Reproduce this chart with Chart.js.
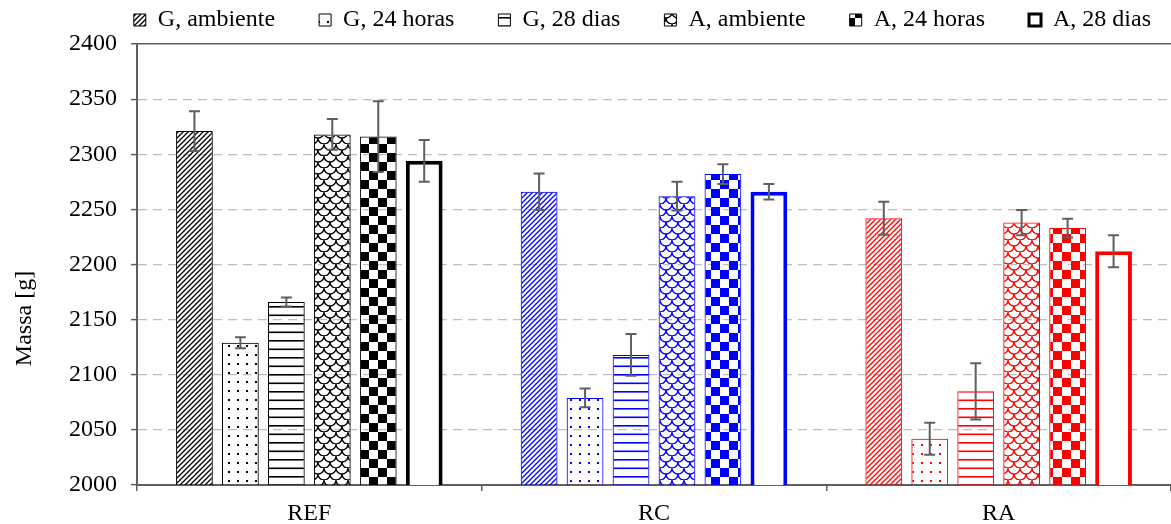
<!DOCTYPE html>
<html>
<head>
<meta charset="utf-8">
<script src="https://cdn.jsdelivr.net/npm/chart.js@4/dist/chart.umd.min.js"></script>
<style>
  html, body { margin: 0; padding: 0; background: #fff; }
  canvas { display: block; }
</style>
</head>
<body>
<canvas id="massChart" width="1171" height="524"></canvas>
<script>
// Categories and tick values
const categories = ['REF', 'RC', 'RA'];
const yTicks = [2000, 2050, 2100, 2150, 2200, 2250, 2300, 2350, 2400];

// Series labels
const seriesLabels = ['G, ambiente', 'G, 24 horas', 'G, 28 dias', 'A, ambiente', 'A, 24 horas', 'A, 28 dias'];

// Mean mass [g] per category
const gAmbiente = [2321, 2266, 2242];
const g24Horas  = [2129, 2079, 2042];
const g28Dias   = [2166, 2118, 2085];
const aAmbiente = [2318, 2262, 2238];
const a24Horas  = [2316, 2282, 2233];
const a28Dias   = [2294, 2266, 2212];

// Error (+/-) per category
const gAmbienteErr = [18, 16.5, 15];
const g24HorasErr  = [5, 8.5, 14.5];
const g28DiasErr   = [4, 19, 25.5];
const aAmbienteErr = [14, 13, 11.5];
const a24HorasErr  = [32, 9, 8.5];
const a28DiasErr   = [19, 7, 14.5];

const groupColors = ['#000000', '#0000FF', '#FF0000'];

// Build a canvas pattern for a given fill style
function makePattern(kind, color) {
    const c = document.createElement('canvas');
    const g = c.getContext('2d');
    if (kind === 'diag') {
        c.width = 5; c.height = 5;
        g.strokeStyle = color; g.lineWidth = 1.3;
        g.beginPath();
        g.moveTo(-1, 6); g.lineTo(6, -1);
        g.moveTo(-1, 1); g.lineTo(1, -1);
        g.moveTo(4, 6); g.lineTo(6, 4);
        g.stroke();
    } else if (kind === 'dots') {
        c.width = 9; c.height = 9;
        g.fillStyle = color;
        g.fillRect(3, 3, 2, 2);
    } else if (kind === 'hlines') {
        c.width = 4; c.height = 17;
        g.fillStyle = color;
        g.fillRect(0, 0, 4, 1.6);
        g.fillRect(0, 8.5, 4, 1.6);
    } else if (kind === 'scales') {
        c.width = 12; c.height = 12;
        g.strokeStyle = color; g.lineWidth = 1.3;
        g.beginPath(); g.arc(6, 0, 6, 0, Math.PI); g.stroke();
        g.beginPath(); g.arc(0, 6, 6, 0, Math.PI); g.stroke();
        g.beginPath(); g.arc(12, 6, 6, 0, Math.PI); g.stroke();
    } else if (kind === 'checker') {
        c.width = 18; c.height = 18;
        g.fillStyle = color;
        g.fillRect(0, 0, 9, 9);
        g.fillRect(9, 9, 9, 9);
    }
    return document.getElementById('massChart').getContext('2d').createPattern(c, 'repeat');
}

const kinds = ['diag', 'dots', 'hlines', 'scales', 'checker', null];
const seriesValues = [gAmbiente, g24Horas, g28Dias, aAmbiente, a24Horas, a28Dias];
const seriesErrors = [gAmbienteErr, g24HorasErr, g28DiasErr, aAmbienteErr, a24HorasErr, a28DiasErr];

const datasets = seriesLabels.map((label, i) => ({
    label: label,
    data: seriesValues[i],
    errors: seriesErrors[i],
    backgroundColor: kinds[i] ? groupColors.map(col => makePattern(kinds[i], col)) : '#FFFFFF',
    borderColor: groupColors,
    borderWidth: kinds[i] ? 1 : 4,
    borderSkipped: false,
    legendFill: kinds[i] ? makePattern(kinds[i], '#000000') : '#FFFFFF',
    categoryPercentage: 0.8,
    barPercentage: 0.8
}));

// Error bars drawn from the dataset errors through the y scale
const errorBars = {
    id: 'errorBars',
    afterDatasetsDraw(chart) {
        const ctx = chart.ctx;
        const yScale = chart.scales.y;
        ctx.save();
        ctx.strokeStyle = '#5F5F5F';
        ctx.lineWidth = 2;
        chart.data.datasets.forEach((ds, i) => {
            chart.getDatasetMeta(i).data.forEach((bar, j) => {
                const v = ds.data[j], e = ds.errors[j];
                const top = yScale.getPixelForValue(v + e);
                const bot = yScale.getPixelForValue(v - e);
                ctx.beginPath();
                ctx.moveTo(bar.x, top); ctx.lineTo(bar.x, bot);
                ctx.moveTo(bar.x - 5.5, top); ctx.lineTo(bar.x + 5.5, top);
                ctx.moveTo(bar.x - 5.5, bot); ctx.lineTo(bar.x + 5.5, bot);
                ctx.stroke();
            });
        });
        ctx.restore();
    }
};

// Fix the legend block height so the plot starts at the right place
const legendHeight = {
    id: 'legendHeight',
    beforeInit(chart) {
        const fit = chart.legend.fit;
        chart.legend.fit = function () {
            fit.call(this);
            this.height = 44;
        };
    }
};

Chart.defaults.font.family = '"Liberation Serif", "Times New Roman", serif';
Chart.defaults.font.size = 24;
Chart.defaults.color = '#000000';

new Chart(document.getElementById('massChart'), {
    type: 'bar',
    data: { labels: categories, datasets: datasets },
    options: {
        responsive: false,
        animation: false,
        layout: { padding: 0 },
        plugins: {
            tooltip: { enabled: false },
            legend: {
                position: 'top',
                align: 'end',
                labels: {
                    boxWidth: 12,
                    boxHeight: 12,
                    padding: 8,
                    generateLabels(chart) {
                        const n = chart.data.datasets.length;
                        return chart.data.datasets.map((ds, i) => ({
                            text: ds.label + (i < n - 1 ? '      ' : '  '),
                            fillStyle: ds.legendFill,
                            strokeStyle: '#000000',
                            lineWidth: ds.borderWidth > 1 ? 3 : 1,
                            datasetIndex: i
                        }));
                    }
                }
            }
        },
        scales: {
            x: {
                grid: {
                    offset: true,
                    drawOnChartArea: false,
                    drawTicks: true,
                    tickLength: 6,
                    color: '#5F5F5F',
                    lineWidth: 1.5
                },
                border: { color: '#5F5F5F', width: 2 },
                ticks: { padding: 8 },
                afterFit(scale) { scale.height = 39; }
            },
            y: {
                min: 2000,
                max: 2400,
                afterBuildTicks(scale) { scale.ticks = yTicks.map(v => ({ value: v })); },
                grid: {
                    color: c => (c.tick && c.tick.value === 2400) ? '#5F5F5F' : (c.tick && c.tick.value === 2000 ? 'rgba(0,0,0,0)' : '#BDBDBD'),
                    lineWidth: c => (c.tick && c.tick.value === 2400) ? 1.5 : 1.2,
                    tickColor: '#5F5F5F',
                    tickLength: 6,
                    tickWidth: 1.5
                },
                border: {
                    color: '#5F5F5F',
                    width: 2,
                    dash: c => (c.tick && c.tick.value !== 2400) ? [9, 6] : []
                },
                ticks: {
                    padding: 14,
                    callback: value => String(value)
                },
                title: {
                    display: true,
                    text: 'Massa [g]' + ' '.repeat(18),
                    padding: { top: 10, bottom: 0 }
                },
                afterFit(scale) { scale.width = 137; }
            }
        }
    },
    plugins: [legendHeight, errorBars]
});
</script>
</body>
</html>
